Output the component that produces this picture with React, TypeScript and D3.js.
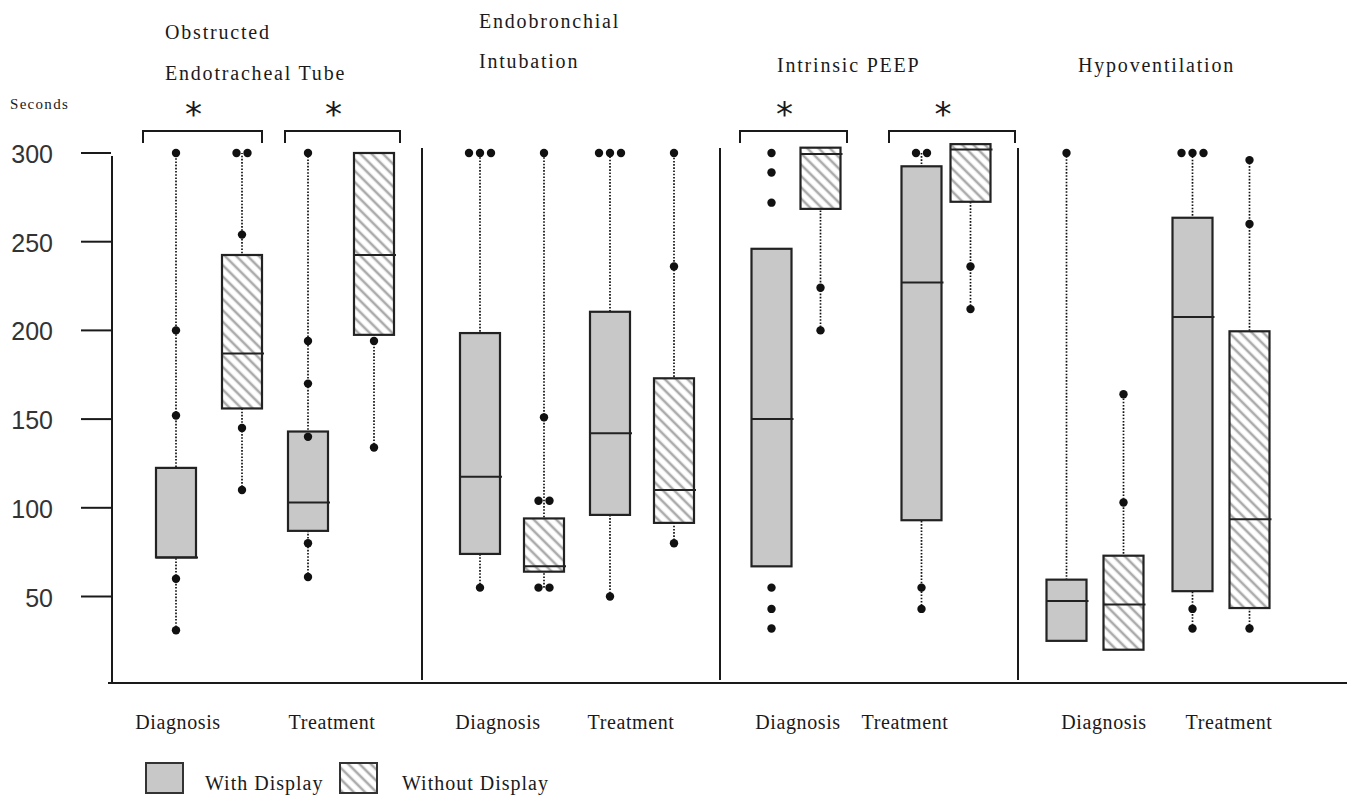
import * as d3 from "d3";

// categories
const panelTitles = [
  ["Obstructed", "Endotracheal Tube"],
  ["Endobronchial", "Intubation"],
  ["Intrinsic PEEP"],
  ["Hypoventilation"],
];
const phases = ["Diagnosis", "Treatment"];
const conditions = ["With Display", "Without Display"];
const yTicks = [50, 100, 150, 200, 250, 300];

// box order: panel -> phase -> condition
const q1 = [72, 156, 87, 197.5, 74, 64, 96, 91.5, 67, 268.5, 93, 272.5, 25, 20, 53, 43.5];
const median = [72, 187, 103, 242.5, 117.5, 67, 142, 110, 150, 299.5, 227, 302, 47.5, 45.5, 207.5, 93.5];
const q3 = [122.5, 242.5, 143, 300, 198.5, 94, 210.5, 173, 246, 303, 292.5, 305, 59.5, 73, 263.5, 199.5];
const whiskerLow = [31, 110, 61, 134, 55, 55, 50, 80, 67, 200, 43, 212, 25, 20, 32, 32];
const whiskerHigh = [300, 300, 300, 300, 300, 300, 300, 300, 246, 303, 300, 305, 300, 164, 300, 296];
const points = [
  [300, 200, 152, 60, 31],
  [300, 300, 254, 145, 110],
  [300, 194, 170, 140, 80, 61],
  [194, 134],
  [300, 300, 300, 55],
  [300, 151, 104, 104, 55, 55],
  [300, 300, 300, 50],
  [300, 236, 80],
  [300, 289, 272, 55, 43, 32],
  [224, 200],
  [300, 300, 55, 43],
  [236, 212],
  [300],
  [164, 103],
  [300, 300, 300, 43, 32],
  [296, 260, 32],
];
// significant differences (panel index, phase)
const significant: [number, string][] = [
  [0, "Diagnosis"],
  [0, "Treatment"],
  [2, "Diagnosis"],
  [2, "Treatment"],
];

export default function App() {
  const width = 1355;
  const height = 800;

  // layout
  const panelEdges = [112, 422, 720, 1018, 1347];
  const phaseCenters = [[209, 341], [512, 642], [796, 946], [1095, 1221]];
  const pairGap = [66, 64, 49, 57];
  const labelCenters = [[178, 332], [498, 631], [798, 905], [1104, 1229]];
  const titleX = [165, 479, 777, 1078];
  const bracketSpan = [[-66, 53], [-56, 59], [-56, 51], [-57, 69]];
  const boxW = 40;
  const baseY = 683;

  const y = d3.scaleLinear([50, 300], [596.5, 153]);
  const phaseX = phaseCenters.map((r) => d3.scalePoint(phases, r));
  const condX = pairGap.map((g) => d3.scalePoint(conditions, [-g / 2, g / 2]));

  const boxes = q1.map((_, i) => {
    const p = Math.floor(i / 4);
    const phase = phases[Math.floor((i % 4) / 2)];
    const cond = conditions[i % 2];
    const cx = (phaseX[p](phase) as number) + (condX[p](cond) as number);
    return { i, p, phase, cond, cx };
  });

  const serif = "'Liberation Serif', 'Times New Roman', serif";
  const ink = "#1a1a1a";

  return (
    <svg width={width} height={height} style={{ display: "block", position: "absolute", left: 0, top: 0, background: "#fff" }}>
      <defs>
        <pattern id="hatch" width={8} height={8} patternUnits="userSpaceOnUse" patternTransform="rotate(-45)">
          <rect width={8} height={8} fill="#fff" />
          <line x1={2} y1={0} x2={2} y2={8} stroke="#ababab" strokeWidth={2.6} />
        </pattern>
      </defs>

      {/* y axis */}
      <text x={10} y={109} fontFamily={serif} fontSize={15} letterSpacing={1.3} fill={ink}>Seconds</text>
      <line x1={112} y1={156} x2={112} y2={baseY} stroke={ink} strokeWidth={2} />
      {yTicks.map((t) => (
        <g key={t}>
          <line x1={81} y1={y(t)} x2={111} y2={y(t)} stroke={ink} strokeWidth={2} />
          <text x={53} y={y(t) + 10} textAnchor="end" fontFamily="'Liberation Sans', Arial, sans-serif" fontSize={25} fill="#333">{t}</text>
        </g>
      ))}
      <line x1={108} y1={baseY} x2={panelEdges[4]} y2={baseY} stroke={ink} strokeWidth={2} />

      {/* panel dividers */}
      {panelEdges.slice(1, 4).map((x) => (
        <line key={x} x1={x} y1={148} x2={x} y2={baseY - 3} stroke={ink} strokeWidth={2} />
      ))}

      {/* panel titles */}
      {panelTitles.map((lines, p) =>
        lines.map((t, k) => {
          const yy = lines.length === 1 ? 72 : p === 0 ? [39, 80][k] : [28, 68][k];
          return (
            <text key={p + "-" + k} x={titleX[p]} y={yy} fontFamily={serif} fontSize={20} letterSpacing={1.8} fill={ink}>{t}</text>
          );
        })
      )}

      {/* significance brackets */}
      {significant.map(([p, ph], k) => {
        const c = phaseX[p](ph) as number;
        const l = c + bracketSpan[k][0];
        const r = c + bracketSpan[k][1];
        return (
          <g key={p + ph}>
            <path d={`M${l},143V131H${r}V143`} fill="none" stroke={ink} strokeWidth={2} />
            <text x={(l + r) / 2 - 9} y={126} textAnchor="middle" fontFamily="'DejaVu Sans', sans-serif" fontSize={34} fill={ink}>*</text>
          </g>
        );
      })}

      {/* boxes */}
      {boxes.map((b) => {
        const fill = b.cond === conditions[0] ? "#c8c8c8" : "url(#hatch)";
        const pts = points[b.i];
        const counts = d3.rollup(pts, (v) => v.length, (d) => d);
        const seen = new Map<number, number>();
        return (
          <g key={b.i}>
            <line x1={b.cx} x2={b.cx} y1={y(whiskerLow[b.i])} y2={y(whiskerHigh[b.i])} stroke="#111" strokeWidth={1.7} strokeDasharray="1.6,1.6" />
            <rect x={b.cx - boxW / 2} y={y(q3[b.i])} width={boxW} height={y(q1[b.i]) - y(q3[b.i])} fill={fill} stroke="#222" strokeWidth={2.2} />
            <line x1={b.cx - boxW / 2} x2={b.cx + boxW / 2 + 2} y1={y(median[b.i])} y2={y(median[b.i])} stroke="#222" strokeWidth={2} />
            {pts.map((v, k) => {
              const n = counts.get(v) as number;
              const j = seen.get(v) ?? 0;
              seen.set(v, j + 1);
              const dx = (j - (n - 1) / 2) * 11;
              return <circle key={k} cx={b.cx + dx} cy={y(v)} r={4.2} fill="#111" />;
            })}
          </g>
        );
      })}

      {/* phase labels */}
      {labelCenters.map((r, p) =>
        phases.map((ph, k) => (
          <text key={p + ph} x={r[k]} y={729} textAnchor="middle" fontFamily={serif} fontSize={20} letterSpacing={0.6} fill={ink}>{ph}</text>
        ))
      )}

      {/* legend */}
      <rect x={146} y={763} width={37} height={30} fill="#c8c8c8" stroke="#333" strokeWidth={2} />
      <text x={205} y={790} fontFamily={serif} fontSize={20} letterSpacing={1} fill={ink}>{conditions[0]}</text>
      <rect x={340} y={763} width={37} height={30} fill="url(#hatch)" stroke="#333" strokeWidth={2} />
      <text x={402} y={790} fontFamily={serif} fontSize={20} letterSpacing={1} fill={ink}>{conditions[1]}</text>
    </svg>
  );
}
